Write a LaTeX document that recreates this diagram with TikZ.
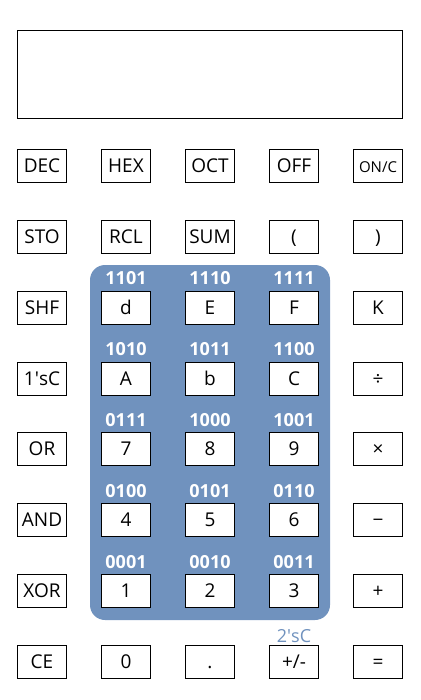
\documentclass[tikz,border=0pt]{standalone}
\usepackage{fontspec}
\setmainfont{Open Sans}
\usetikzlibrary{positioning}
\usetikzlibrary{calc}
\definecolor{padblue}{RGB}{112,146,190}

\tikzset{
  key/.style={draw=black, line width=1pt, fill=white, minimum width=49pt,
    minimum height=33pt, inner sep=0pt, text height=13pt, text depth=0pt,
    font=\fontsize{19}{19}\selectfont},
  bits/.style={text=white, inner sep=0pt, font=\fontsize{18}{18}\selectfont\bfseries},
}

\begin{document}
\begin{tikzpicture}[x=1pt,y=-1pt]
  % Constants
  \pgfmathsetmacro\dx{84}
  \pgfmathsetmacro\dy{70.86}
  \pgfmathsetmacro\xo{42}
  \pgfmathsetmacro\yo{166}
  % Boundary
  \path[use as bounding box] (0,0) rectangle (420,700);
  % Display
  \draw[line width=1pt] (17.5,30.5) rectangle (402.5,118.5);
  % Hex pad
  \fill[padblue, rounded corners=15pt] (90,265) rectangle (330,620);
  % Keys
  \foreach \row/\labels in {0/{DEC,HEX,OCT,OFF,{\fontsize{15}{15}\selectfont ON/C}},
      1/{STO,RCL,SUM,{(},{)}}, 2/{SHF,d,E,F,K}, 3/{1\textquotesingle sC,A,b,C,÷},
      4/{OR,7,8,9,×}, 5/{AND,4,5,6,−}, 6/{XOR,1,2,3,+}, 7/{CE,0,.,+/-,=}} {
    \foreach \lab [count=\col from 0] in \labels {
      \node[key] (k-\row-\col) at (\xo+\col*\dx, \yo+\row*\dy) {\lab};
    }
  }
  % Binary codes
  \foreach \row/\codes in {2/{1101,1110,1111}, 3/{1010,1011,1100},
      4/{0111,1000,1001}, 5/{0100,0101,0110}, 6/{0001,0010,0011}} {
    \foreach \code [count=\col from 1] in \codes {
      \node[bits, above=6pt of k-\row-\col.north, anchor=base] (c-\row-\col) {\code};
    }
  }
  % Two's complement
  \node[text=padblue, font=\fontsize{18}{18}\selectfont, inner sep=0pt]
    (twos) at ($(k-7-3.north)+(0,-9)$) {2\textquotesingle sC};
\end{tikzpicture}
\end{document}
